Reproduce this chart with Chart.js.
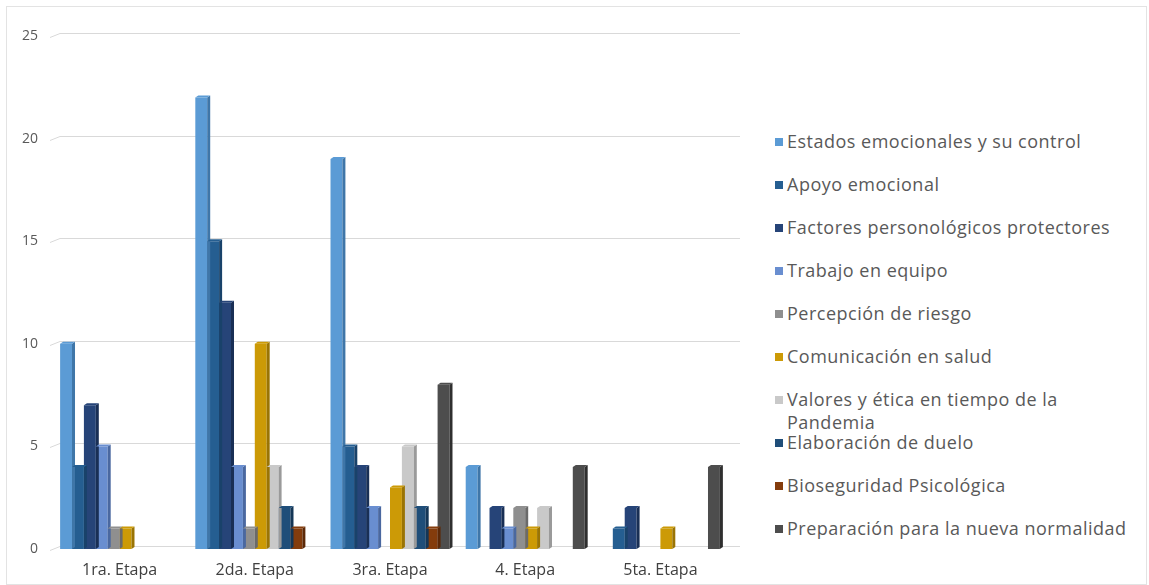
<!DOCTYPE html>
<html>
<head>
<meta charset="utf-8">
<script src="https://cdn.jsdelivr.net/npm/chart.js@4"></script>
<style>
  body { margin: 0; background: #fff; font-family: 'Open Sans', sans-serif; }
  #marco { position: absolute; left: 6px; top: 6px; width: 1141px; height: 579px; border: 1px solid #e3e3e3; box-sizing: border-box; }
  #grafico-wrap { position: absolute; left: 0; top: 0; width: 760px; height: 585px; }
  #leyenda { position: absolute; left: 775px; top: 130px; color: #595959; font-size: 18px; letter-spacing: 0.5px; }
  .item { position: relative; height: 43px; padding-left: 12px; line-height: 23px; white-space: nowrap; }
  .item .cuadro { position: absolute; left: 0; top: 8px; width: 8px; height: 8px; }
</style>
</head>
<body>
<div id="marco"></div>
<div id="grafico-wrap"><canvas id="grafico"></canvas></div>
<div id="leyenda"></div>
<script>
const etapas = ['1ra. Etapa', '2da. Etapa', '3ra. Etapa', '4. Etapa', '5ta. Etapa'];

const series = [
  'Estados emocionales y su control',
  'Apoyo emocional',
  'Factores personológicos protectores',
  'Trabajo en equipo',
  'Percepción de riesgo',
  'Comunicación en salud',
  'Valores y ética en tiempo de la Pandemia',
  'Elaboración de duelo',
  'Bioseguridad Psicológica',
  'Preparación para la nueva normalidad'
];

const estados = [10, 22, 19, 4, 0];
const apoyo = [4, 15, 5, 0, 1];
const factores = [7, 12, 4, 2, 2];
const trabajo = [5, 4, 2, 1, 0];
const percepcion = [1, 1, 0, 2, 0];
const comunicacion = [1, 10, 3, 1, 1];
const valores = [0, 4, 5, 2, 0];
const duelo = [0, 2, 2, 0, 0];
const bioseguridad = [0, 1, 1, 0, 0];
const preparacion = [0, 0, 8, 4, 4];

const ticksY = [0, 5, 10, 15, 20, 25];

const colores = ['#5b9bd5', '#255e91', '#264478', '#698ed0', '#8f8f8f', '#cc9a06', '#c9c9c9', '#1f4e79', '#843c0c', '#4d4d4d'];
const lados = ['#3f76a8', '#19426a', '#192f55', '#4a68a0', '#6a6a6a', '#9a7404', '#9a9a9a', '#143656', '#5c2908', '#2f2f2f'];
const valores_series = [estados, apoyo, factores, trabajo, percepcion, comunicacion, valores, duelo, bioseguridad, preparacion];

// leyenda en html
const leyenda = document.getElementById('leyenda');
series.forEach((nombre, i) => {
    const div = document.createElement('div');
    div.className = 'item';
    let texto = nombre;
    if (i === 6) texto = 'Valores y ética en tiempo de la<br>Pandemia';
    div.innerHTML = '<span class="cuadro" style="background:' + colores[i] + '"></span>' + texto;
    leyenda.appendChild(div);
});

// rejilla con la pequeña inclinacion del 3d
const rejilla = {
    id: 'rejilla',
    beforeDatasetsDraw(chart) {
        const ctx = chart.ctx;
        const y = chart.scales.y;
        const area = chart.chartArea;
        ctx.save();
        ctx.strokeStyle = '#d9d9d9';
        ctx.lineWidth = 1;
        ticksY.forEach(v => {
            const py = Math.round(y.getPixelForValue(v)) - 2.5;
            ctx.beginPath();
            ctx.moveTo(area.left - 2, py + 4);
            ctx.lineTo(area.left + 8, py);
            ctx.lineTo(area.right + 12, py);
            ctx.stroke();
        });
        ctx.restore();
    }
};

// caras laterales y tapas de las barras
const relieve = {
    id: 'relieve',
    afterDatasetsDraw(chart) {
        const ctx = chart.ctx;
        ctx.save();
        chart.data.datasets.forEach((ds, i) => {
            chart.getDatasetMeta(i).data.forEach((bar, j) => {
                if (!ds.data[j]) return;
                const der = bar.x + bar.width / 2;
                const izq = bar.x - bar.width / 2;
                ctx.fillStyle = lados[i];
                ctx.beginPath();
                ctx.moveTo(der, bar.y);
                ctx.lineTo(der + 3, bar.y - 2);
                ctx.lineTo(der + 3, bar.base - 2);
                ctx.lineTo(der, bar.base);
                ctx.closePath();
                ctx.fill();
                ctx.fillStyle = colores[i];
                ctx.beginPath();
                ctx.moveTo(izq, bar.y);
                ctx.lineTo(izq + 3, bar.y - 2);
                ctx.lineTo(der + 3, bar.y - 2);
                ctx.lineTo(der, bar.y);
                ctx.closePath();
                ctx.fill();
            });
        });
        ctx.restore();
    }
};

const canvas = document.getElementById('grafico');
canvas.width = 760;
canvas.height = 585;

new Chart(canvas.getContext('2d'), {
    type: 'bar',
    data: {
        labels: etapas,
        datasets: series.map((nombre, i) => ({
            label: nombre,
            data: valores_series[i],
            backgroundColor: colores[i],
            borderWidth: 0,
            barPercentage: 1,
            categoryPercentage: 0.88
        }))
    },
    options: {
        responsive: false,
        animation: false,
        layout: { padding: { top: 36, right: 32, bottom: 4, left: 0 } },
        plugins: { legend: { display: false }, tooltip: { enabled: false } },
        scales: {
            x: {
                afterFit: (axis) => { axis.height = 32; },
                grid: { display: false, drawTicks: false },
                border: { display: false },
                ticks: { color: '#404040', font: { family: 'Open Sans', size: 16 }, padding: 12 }
            },
            y: {
                min: 0,
                max: 25,
                afterBuildTicks: (axis) => { axis.ticks = ticksY.map(v => ({ value: v })); },
                afterFit: (axis) => { axis.width = 52; },
                grid: { display: false, drawTicks: false },
                border: { display: false },
                ticks: { color: '#595959', font: { family: 'Open Sans', size: 14 }, padding: 14 }
            }
        }
    },
    plugins: [rejilla, relieve]
});
</script>
</body>
</html>
